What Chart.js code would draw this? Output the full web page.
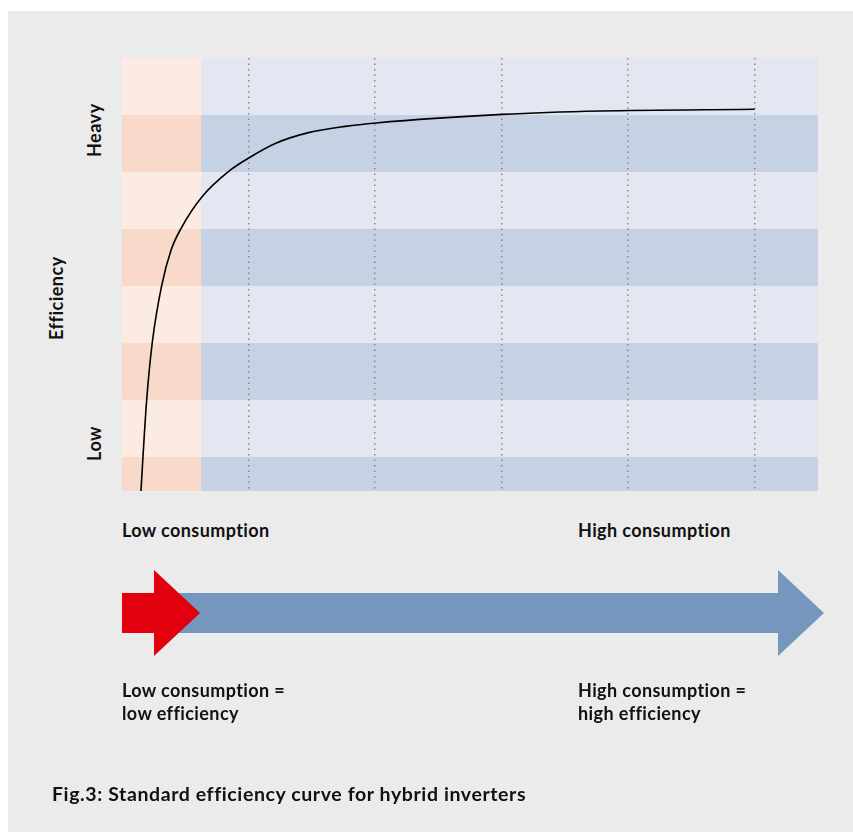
<!DOCTYPE html>
<html>
<head>
<meta charset="utf-8">
<script src="https://cdn.jsdelivr.net/npm/chart.js@4.4.0/dist/chart.umd.min.js"></script>
<style>
  html, body { margin: 0; padding: 0; background: #fff; }
  body { width: 853px; height: 832px; position: relative; overflow: hidden; font-family: "Lato", "DejaVu Sans", sans-serif; color: #111; }
  #panel { position: absolute; left: 8px; top: 11px; right: 0; bottom: 0; background: #ebebeb; }
  #plot { position: absolute; left: 122px; top: 58px; width: 696px; height: 433px; }
  .lbl { position: absolute; font-weight: bold; font-size: 18px; letter-spacing: 0.4px; white-space: nowrap; line-height: 23px; }
  .cap { font-size: 19.5px; letter-spacing: 0.6px; }
  .rot { position: absolute; font-weight: bold; font-size: 18px; letter-spacing: 0.5px; line-height: 1.2; white-space: nowrap; transform-origin: 0 0; transform: rotate(-90deg); }
  svg { position: absolute; left: 0; top: 0; }
</style>
</head>
<body>
<div id="panel"></div>
<div id="plot"><canvas id="effChart"></canvas></div>

<div class="rot" id="yHeavy">Heavy</div>
<div class="rot" id="yLow">Low</div>
<div class="rot" id="yTitle">Efficiency</div>

<div class="lbl" style="left:122px; top:518.5px;">Low consumption</div>
<div class="lbl" style="left:578px; top:518.5px;">High consumption</div>

<svg width="853" height="832">
  <polygon points="122,593 778,593 778,570 824,613 778,656 778,633 122,633" fill="#7596bd"/>
  <polygon points="122,593 154,593 154,570 200,613 154,656 154,633 122,633" fill="#e2000f"/>
</svg>

<div class="lbl" style="left:122px; top:678.5px;">Low consumption =<br>low efficiency</div>
<div class="lbl" style="left:578px; top:678.5px;">High consumption =<br>high efficiency</div>

<div class="lbl cap" style="left:52px; top:781.5px;">Fig.3: Standard efficiency curve for hybrid inverters</div>

<script>
// curve (consumption vs efficiency, arbitrary units)
const consumption = [0.15, 0.166, 0.195, 0.24, 0.314, 0.388, 0.467, 0.631, 0.855, 1.005, 1.211, 1.474, 1.765, 2.008, 3.004, 3.782, 5.0];
const efficiency = [0, 0.61, 1.6, 2.62, 3.61, 4.23, 4.61, 5.16, 5.63, 5.85, 6.10, 6.29, 6.40, 6.46, 6.61, 6.67, 6.70];

// background bands
const bandEdges = [0, 0.6, 1.6, 2.6, 3.6, 4.6, 5.6, 6.6, 7.6];
const lowZoneEnd = 0.625;
const xMax = 5.5;
const yMax = 7.6;

// y positions of the rotated axis words
const heavyAt = 6.33;
const lowAt = 0.84;
const titleAt = 3.38;

// bands go under the grid, so they are drawn before everything else
const bands = {
  id: 'bands',
  beforeDraw(chart) {
    const ctx = chart.ctx;
    const x = chart.scales.x, y = chart.scales.y;
    ctx.save();
    for (let i = 0; i < bandEdges.length - 1; i++) {
      const dark = i % 2 == 0;
      const top = y.getPixelForValue(bandEdges[i + 1]);
      const bot = y.getPixelForValue(bandEdges[i]);
      const xl = x.getPixelForValue(0);
      const xm = x.getPixelForValue(lowZoneEnd);
      const xr = x.getPixelForValue(xMax);
      ctx.fillStyle = dark ? '#f9d9ca' : '#fcebe3';
      ctx.fillRect(xl, top, xm - xl, bot - top);
      ctx.fillStyle = dark ? '#c6d1e3' : '#e2e7f1';
      ctx.fillRect(xm, top, xr - xm, bot - top);
    }
    ctx.restore();
  }
};

const ctx = document.getElementById('effChart').getContext('2d');
const chart = new Chart(ctx, {
  type: 'line',
  data: {
    datasets: [{
      data: consumption.map((c, i) => ({ x: c, y: efficiency[i] })),
      borderColor: '#000',
      borderWidth: 1.6,
      pointRadius: 0,
      cubicInterpolationMode: 'monotone',
      fill: false
    }]
  },
  options: {
    responsive: true,
    maintainAspectRatio: false,
    animation: false,
    layout: { padding: 0 },
    plugins: { legend: { display: false }, tooltip: { enabled: false } },
    scales: {
      x: {
        type: 'linear', min: 0, max: xMax,
        ticks: { display: false, stepSize: 1 },
        border: { display: false, dash: [1.5, 4] },
        grid: {
          drawTicks: false,
          lineWidth: 1.5,
          color: c => (c.tick && c.tick.value > 0 && c.tick.value % 1 == 0) ? '#8a8a8a' : 'rgba(0,0,0,0)'
        }
      },
      y: {
        type: 'linear', min: 0, max: yMax,
        ticks: { display: false },
        border: { display: false },
        grid: { display: false, drawTicks: false }
      }
    }
  },
  plugins: [bands]
});

// place the rotated words on the y scale
function placeRot(id, val, cx) {
  const el = document.getElementById(id);
  const py = 58 + chart.scales.y.getPixelForValue(val);
  const w = el.offsetWidth, h = el.offsetHeight;
  el.style.left = (cx - h / 2) + 'px';
  el.style.top = (py + w / 2) + 'px';
}
placeRot('yHeavy', heavyAt, 95);
placeRot('yLow', lowAt, 95);
placeRot('yTitle', titleAt, 57);
</script>
</body>
</html>
